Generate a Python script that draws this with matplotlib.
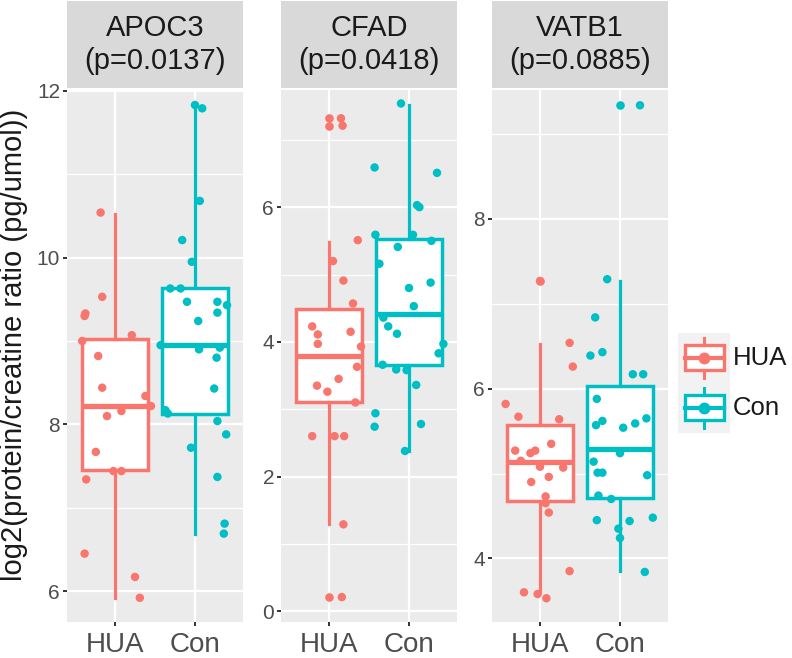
import matplotlib
matplotlib.use("Agg")
import matplotlib.pyplot as plt
from matplotlib.patches import Rectangle

plt.rcParams['font.family'] = ['Liberation Sans', 'DejaVu Sans']

groups = ['HUA', 'Con']
colors = {'HUA': '#F8766D', 'Con': '#00BFC4'}
proteins = ['APOC3', 'CFAD', 'VATB1']
pvalues = ['0.0137', '0.0418', '0.0885']

# APOC3
apoc3_hua = [10.54, 9.53, 9.33, 9.30, 9.07, 9.00, 8.82, 8.44, 8.34, 8.16, 8.10, 8.22,
             7.67, 7.44, 7.44, 7.34, 6.45, 6.17, 5.92]
apoc3_hua_jit = [-0.18, -0.16, -0.37, -0.38, 0.21, -0.41, -0.21, -0.16, 0.38, 0.08, -0.10, 0.45,
                 -0.24, -0.02, 0.08, -0.36, -0.38, 0.25, 0.31]
apoc3_con = [11.83, 11.79, 10.68, 10.21, 9.95, 9.63, 9.63, 9.47, 9.47, 9.43, 9.34, 9.24, 8.95,
             8.90, 8.92, 8.80, 8.43, 8.17, 8.13, 8.04, 7.88, 7.72, 7.37, 6.81, 6.69]
apoc3_con_jit = [0.0, 0.09, 0.06, -0.16, -0.04, -0.31, -0.18, -0.10, 0.28, 0.40, 0.28, 0.04, -0.43,
                 0.05, 0.31, 0.27, 0.24, -0.37, -0.34, 0.28, 0.39, -0.05, 0.28, 0.37, 0.36]
# box stats: whislo, q1, med, q3, whishi
apoc3_hua_box = [5.92, 7.45, 8.22, 9.02, 10.52]
apoc3_con_box = [6.69, 8.12, 8.95, 9.63, 11.83]
apoc3_hua_out = []
apoc3_con_out = []

# CFAD
cfad_hua = [7.32, 7.21, 5.51, 5.20, 4.91, 4.57, 4.23, 4.15, 4.11, 3.97, 3.93, 3.63, 3.45, 3.35,
            3.26, 3.10, 2.60, 2.60, 2.60, 1.29, 0.21]
cfad_hua_jit = [0.15, 0.17, 0.36, 0.05, 0.18, 0.30, -0.21, 0.27, -0.14, -0.14, 0.40, 0.35, 0.12,
                -0.15, -0.02, 0.33, -0.21, 0.07, 0.19, 0.18, 0.16]
cfad_con = [7.54, 6.59, 6.51, 6.03, 6.00, 5.59, 5.59, 5.50, 5.41, 5.16, 4.88, 4.80, 4.53, 4.36,
            4.23, 4.12, 3.97, 3.83, 3.66, 3.59, 3.58, 3.36, 2.94, 2.78, 2.74, 2.38]
cfad_con_jit = [-0.10, -0.43, 0.35, 0.10, 0.13, -0.42, 0.05, 0.28, -0.14, -0.37, 0.27, 0.0, 0.06,
                -0.32, -0.26, -0.15, 0.43, 0.37, -0.33, -0.16, -0.03, 0.09, -0.42, 0.15, -0.43, -0.05]
cfad_hua_box = [1.29, 3.11, 3.79, 4.49, 5.49]
cfad_con_box = [2.38, 3.65, 4.42, 5.52, 7.51]
cfad_hua_out = [7.32, 7.21, 0.21]
cfad_con_out = []

# VATB1
vatb1_hua = [7.27, 6.54, 6.26, 5.82, 5.67, 5.64, 5.35, 5.27, 5.27, 5.24, 5.15, 5.08, 5.07, 4.96,
             4.90, 4.73, 4.65, 4.54, 3.85, 3.60, 3.58, 3.53]
vatb1_hua_jit = [0.0, 0.37, 0.41, -0.43, -0.27, 0.24, 0.14, -0.31, -0.06, -0.12, -0.24, 0.0, 0.29,
                 0.11, -0.11, 0.07, 0.07, 0.11, 0.37, -0.20, -0.03, 0.08]
vatb1_con = [9.34, 7.29, 6.84, 6.43, 6.39, 6.17, 6.17, 5.88, 5.65, 5.62, 5.59, 5.57, 5.54, 5.24,
             5.14, 5.01, 5.01, 4.98, 4.74, 4.70, 4.48, 4.45, 4.44, 4.35, 4.24, 3.84]
vatb1_con_jit = [0.25, -0.16, -0.31, -0.22, -0.37, 0.16, 0.29, -0.29, 0.33, -0.22, 0.19, -0.30, 0.04,
                 0.0, -0.33, -0.28, -0.22, 0.34, -0.27, -0.11, 0.41, -0.29, 0.12, -0.02, 0.0, 0.31]
vatb1_hua_box = [3.60, 4.68, 5.13, 5.57, 6.53]
vatb1_con_box = [3.85, 4.71, 5.29, 6.03, 7.27]
vatb1_hua_out = [7.27]
vatb1_con_out = [9.34]

panels = [
    (apoc3_hua, apoc3_hua_jit, apoc3_hua_box, apoc3_hua_out, apoc3_con, apoc3_con_jit, apoc3_con_box, apoc3_con_out),
    (cfad_hua, cfad_hua_jit, cfad_hua_box, cfad_hua_out, cfad_con, cfad_con_jit, cfad_con_box, cfad_con_out),
    (vatb1_hua, vatb1_hua_jit, vatb1_hua_box, vatb1_hua_out, vatb1_con, vatb1_con_jit, vatb1_con_box, vatb1_con_out),
]
ylims = [(5.63, 12.01), (-0.16, 7.74), (3.25, 9.52)]
yticks = [[6, 8, 10, 12], [0, 2, 4, 6], [4, 6, 8]]
yminor = [[7, 9, 11], [1, 3, 5, 7], [5, 7, 9]]

W, H = 792, 658
fig = plt.figure(figsize=(W / 100, H / 100), dpi=100)
lefts = [67, 281, 492]
pw = 176

for i, (left, prot, pv) in enumerate(zip(lefts, proteins, pvalues)):
    ax = fig.add_axes([left / W, 1 - 622 / H, pw / W, 532 / H])
    ax.set_facecolor('#EBEBEB')
    for s in ax.spines.values():
        s.set_visible(False)

    hua, hua_j, hua_b, hua_o, con, con_j, con_b, con_o = panels[i]
    for pos, g, b, out in [(1, 'HUA', hua_b, hua_o), (2, 'Con', con_b, con_o)]:
        st = [{'whislo': b[0], 'q1': b[1], 'med': b[2], 'q3': b[3], 'whishi': b[4], 'fliers': out}]
        c = colors[g]
        ax.bxp(st, positions=[pos], widths=0.82, patch_artist=True, showcaps=False, manage_ticks=False,
               boxprops=dict(facecolor='white', edgecolor=c, lw=2.5),
               whiskerprops=dict(color=c, lw=2.3),
               medianprops=dict(color=c, lw=3.8),
               flierprops=dict(marker='o', markerfacecolor=c, markeredgecolor='none', markersize=6.2))
    for pos, g, ys, js in [(1, 'HUA', hua, hua_j), (2, 'Con', con, con_j)]:
        xs = [pos + j for j in js]
        ax.scatter(xs, ys, s=37, color=colors[g], edgecolors='none', zorder=5)

    ax.set_xlim(0.4, 2.6)
    ax.set_ylim(*ylims[i])
    ax.set_yticks(yticks[i])
    ax.set_yticks(yminor[i], minor=True)
    ax.set_xticks([1, 2])
    ax.set_xticklabels(groups)
    ax.grid(True, which='major', color='white', lw=1.6)
    ax.grid(True, which='minor', axis='y', color='white', lw=0.9)
    ax.set_axisbelow(True)
    ax.tick_params(axis='both', which='major', length=3, width=1.4, color='#333333')
    ax.tick_params(axis='y', which='minor', length=0)
    ax.tick_params(axis='y', labelsize=15, labelcolor='#4D4D4D', pad=2)
    ax.tick_params(axis='x', labelsize=20, labelcolor='#4D4D4D', pad=4)

    sax = fig.add_axes([left / W, 1 - 88 / H, pw / W, 87 / H])
    sax.set_facecolor('#D9D9D9')
    sax.set_xticks([])
    sax.set_yticks([])
    for s in sax.spines.values():
        s.set_visible(False)
    sax.text(0.5, 0.5, f'{prot}\n(p={pv})', ha='center', va='center', fontsize=21,
             color='#1A1A1A', linespacing=1.2, transform=sax.transAxes)

fig.text(14 / W, 1 - 345 / H, 'log2(protein/creatine ratio (pg/umol))', rotation=90,
         ha='center', va='center', fontsize=21, color='#1A1A1A')

# legend
lax = fig.add_axes([674 / W, 1 - 440 / H, 118 / W, 115 / H])
lax.set_xlim(674, 792)
lax.set_ylim(440, 325)
lax.axis('off')
for g, top in [('HUA', 333), ('Con', 383)]:
    c = colors[g]
    kx, kw, kh = 678, 52, 50
    lax.add_patch(Rectangle((kx, top), kw, kh, facecolor='#F2F2F2', edgecolor='none'))
    cx = kx + kw / 2
    lax.plot([cx, cx], [top + 0.1 * kh, top + 0.25 * kh], color=c, lw=2.2)
    lax.plot([cx, cx], [top + 0.75 * kh, top + 0.9 * kh], color=c, lw=2.2)
    lax.add_patch(Rectangle((kx + 0.125 * kw, top + 0.25 * kh), 0.75 * kw, 0.5 * kh,
                            facecolor='white', edgecolor=c, lw=2.4))
    lax.plot([kx + 0.125 * kw, kx + 0.875 * kw], [top + 0.5 * kh] * 2, color=c, lw=3.0)
    lax.plot([cx], [top + 0.5 * kh], 'o', color=c, markersize=7.5)
    lax.text(kx + kw + 3, top + 0.5 * kh, g, ha='left', va='center', fontsize=18.5, color='#1A1A1A')

fig.savefig('out.png', dpi=100)
